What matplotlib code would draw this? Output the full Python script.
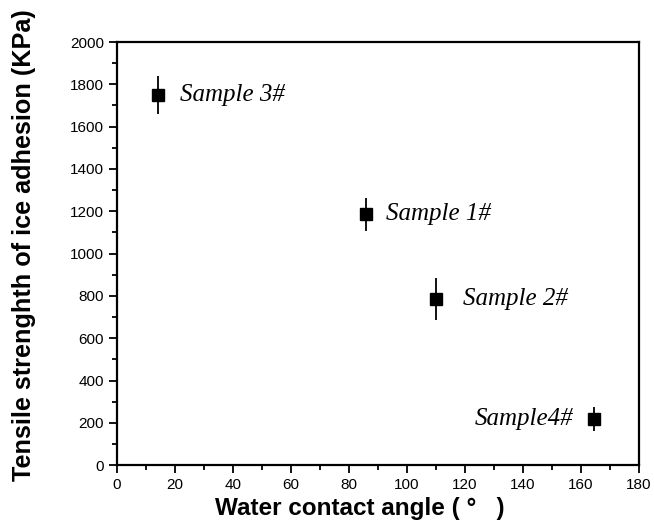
import matplotlib.pyplot as plt
from matplotlib.ticker import MultipleLocator

# data
samples = ['Sample 3#', 'Sample 1#', 'Sample 2#', 'Sample4#']
angle = [14, 86, 110, 164.5]
strength = [1750, 1185, 785, 218]
strength_err = [90, 80, 100, 55]

plt.rcParams['font.family'] = ['Liberation Sans', 'DejaVu Sans']

fig = plt.figure(figsize=(6.54, 5.25), dpi=100)
ax = fig.add_axes([0.179, 0.114, 0.798, 0.806])

ax.errorbar(angle, strength, yerr=strength_err, fmt='s', color='black',
            markersize=8, elinewidth=1.3, capsize=0)

# sample labels, offset from the marker (last one sits on the left)
label_dx = [7.7, 6.7, 9.4, -7.2]
for name, x, y, dx in zip(samples, angle, strength, label_dx):
    ax.text(x + dx, y, name, fontsize=18, style='italic',
            family=['Liberation Serif', 'DejaVu Serif'],
            ha='left' if dx > 0 else 'right', va='center')

ax.set_xlim(0, 180)
ax.set_ylim(0, 2000)
ax.xaxis.set_major_locator(MultipleLocator(20))
ax.xaxis.set_minor_locator(MultipleLocator(10))
ax.yaxis.set_major_locator(MultipleLocator(200))
ax.yaxis.set_minor_locator(MultipleLocator(100))
ax.tick_params(which='both', direction='out', width=1.3, labelsize=11,
               top=False, right=False)
ax.tick_params(which='major', length=6)
ax.tick_params(which='minor', length=3.5)
for sp in ax.spines.values():
    sp.set_linewidth(1.6)

ax.set_xlabel('Water contact angle ( \u00b0   )', fontsize=17.5, fontweight='bold')
ax.set_ylabel('Tensile strenghth of ice adhesion (KPa)', fontsize=18.2,
              fontweight='bold')
ax.xaxis.set_label_coords(0.465, -0.075)
ax.yaxis.set_label_coords(-0.155, 0.52)

plt.savefig('out.png')
